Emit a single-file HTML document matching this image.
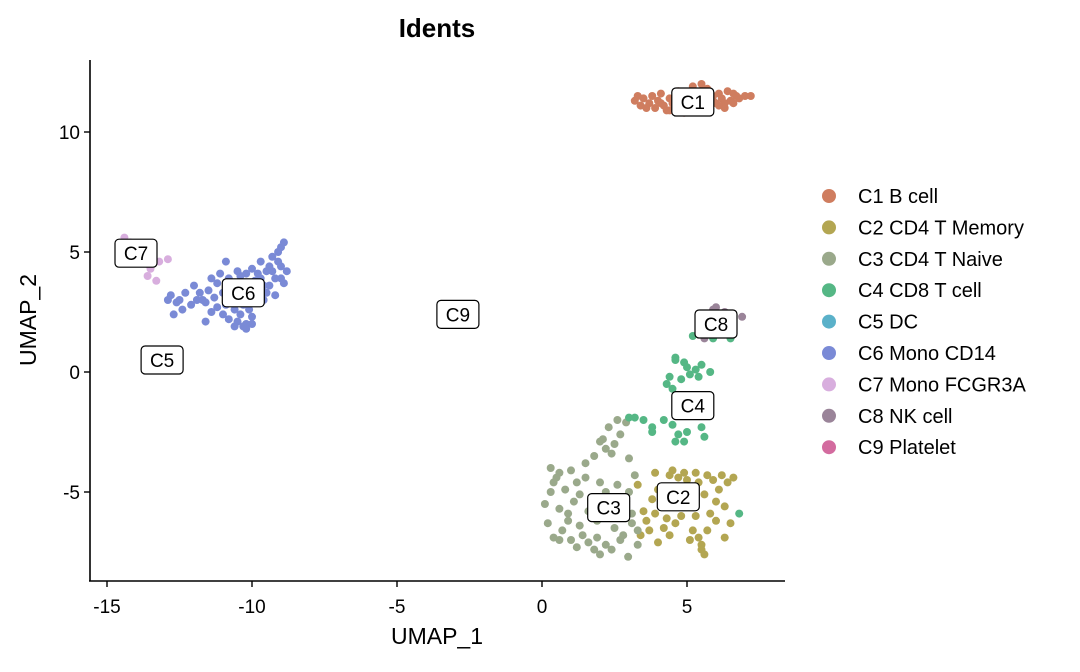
<!DOCTYPE html>
<html><head><meta charset="utf-8"><style>
body{margin:0;background:#fff;font-family:"Liberation Sans",sans-serif}
svg text{font-family:"Liberation Sans",sans-serif}
</style></head><body>
<svg id="chart" width="1080" height="667" xmlns="http://www.w3.org/2000/svg">
<text x="437" y="37" text-anchor="middle" font-size="26" font-weight="bold">Idents</text>
<g id="points"></g>
<g id="axes"></g>
<g id="labels"></g>
<g id="legend"></g>
<text x="437" y="644" text-anchor="middle" font-size="23">UMAP_1</text>
<text transform="translate(36,320) rotate(-90)" text-anchor="middle" font-size="23">UMAP_2</text>
</svg>
<script>
const clusterNames=["C1 B cell","C2 CD4 T Memory","C3 CD4 T Naive","C4 CD8 T cell","C5 DC","C6 Mono CD14","C7 Mono FCGR3A","C8 NK cell","C9 Platelet"];
const clusterColors=["#cf7d5f","#b3a652","#9aa98b","#55b785","#5ab1c9","#7a8ad6","#d8aede","#9a8499","#d36b9f"];
const xTicks=[-15,-10,-5,0,5];
const yTicks=[-5,0,5,10];
const labelIds=["C1","C2","C3","C4","C5","C6","C7","C8","C9"];
const labelX=[5.2,4.7,2.3,5.2,-13.1,-10.3,-14.0,6.0,-2.9];
const labelY=[11.25,-5.2,-5.65,-1.4,0.5,3.3,4.95,2.0,2.4];
const c1=[[3.2,11.3],[3.4,11.1],[3.5,11.4],[3.7,11.2],[3.8,11.5],[3.9,11.0],[4.0,11.3],[4.1,11.6],[4.2,11.1],[4.3,10.9],[4.4,11.4],[4.5,11.2],[4.6,11.0],[4.7,11.7],[4.8,11.3],[4.9,10.8],[5.0,11.5],[5.1,11.1],[5.2,11.9],[5.3,11.6],[5.4,11.0],[5.5,12.0],[5.6,11.3],[5.7,11.8],[5.8,11.1],[5.9,11.5],[6.0,11.2],[6.1,11.6],[6.2,11.4],[6.3,11.0],[6.4,11.7],[6.5,11.3],[6.6,11.6],[6.7,11.5],[6.8,11.4],[7.0,11.5],[7.2,11.5],[6.3,11.2],[5.9,11.3],[4.6,11.5],[3.6,11.0],[4.1,11.2],[4.9,11.1],[5.6,11.6],[6.1,11.1],[6.6,11.2],[4.4,10.9],[3.3,11.5]];
const c2=[[3.9,-4.2],[4.2,-4.8],[4.0,-4.9],[3.8,-5.3],[4.5,-4.1],[4.9,-4.2],[5.3,-4.2],[5.7,-4.3],[5.4,-4.6],[6.2,-4.3],[6.4,-4.6],[6.1,-4.9],[5.6,-5.1],[3.5,-5.8],[3.9,-5.9],[4.3,-6.1],[5.3,-6.0],[6.0,-6.2],[6.3,-5.6],[3.7,-6.6],[4.4,-6.8],[5.1,-7.0],[5.5,-7.2],[5.6,-7.6],[4.0,-7.1],[5.7,-6.6],[6.3,-6.9],[4.6,-6.3],[3.3,-4.7],[3.6,-6.2],[5.2,-6.6],[6.6,-4.4],[4.4,-4.3],[4.7,-4.4],[5.0,-4.5],[5.9,-4.5],[6.0,-5.4],[5.8,-5.9],[4.8,-6.0],[4.2,-6.5],[5.4,-6.9],[5.5,-7.4],[3.4,-6.8],[4.1,-5.4],[6.5,-6.3]];
const c3=[[2.6,-2.0],[2.9,-2.1],[2.3,-2.3],[2.7,-2.6],[2.1,-2.8],[2.5,-3.0],[1.8,-3.5],[2.4,-3.4],[3.0,-3.6],[0.3,-4.0],[0.6,-4.2],[1.0,-4.1],[1.5,-3.8],[1.5,-4.4],[2.0,-4.6],[0.3,-5.0],[0.8,-4.9],[1.3,-5.1],[2.2,-5.0],[2.6,-4.7],[3.2,-4.3],[0.1,-5.5],[0.6,-5.7],[1.1,-5.4],[1.6,-5.8],[2.4,-5.6],[2.9,-5.4],[0.2,-6.3],[0.7,-6.6],[1.3,-6.4],[1.9,-6.9],[2.5,-6.5],[3.1,-6.3],[0.6,-7.0],[1.2,-7.3],[1.6,-7.1],[2.2,-7.2],[2.7,-7.0],[3.3,-7.2],[2.0,-7.6],[2.6,-6.0],[0.4,-4.6],[1.9,-6.2],[3.1,-5.9],[1.0,-7.0],[2.97,-7.7],[2.0,-2.9],[2.2,-3.2],[0.5,-4.4],[1.2,-4.6],[0.9,-5.9],[1.4,-6.8],[2.8,-6.8],[3.0,-5.0],[1.7,-5.3],[0.4,-6.9],[1.8,-7.4],[2.4,-7.4],[3.3,-6.6],[0.9,-6.2]];
const c4=[[5.9,1.4],[6.5,1.4],[5.2,1.5],[4.6,0.6],[4.9,0.4],[5.3,0.1],[5.5,0.3],[5.8,0.0],[4.4,-0.2],[4.8,-0.3],[5.1,-0.1],[4.5,-0.7],[5.2,-1.0],[4.2,-2.0],[3.0,-1.9],[3.5,-2.0],[3.8,-2.3],[4.7,-2.6],[5.5,-2.3],[5.6,-2.7],[4.9,-2.9],[3.8,-2.5],[5.0,-2.5],[6.8,-5.9],[4.5,-2.2],[5.0,0.2],[4.6,0.5],[5.4,-0.2],[4.3,-0.5],[3.2,-1.9],[4.6,-2.9]];
const c5=[];
const c6=[[-12.8,3.2],[-12.6,2.9],[-12.4,2.6],[-12.7,2.4],[-12.9,3.0],[-12.3,3.3],[-12.0,3.6],[-11.8,3.3],[-11.6,2.9],[-11.4,2.5],[-11.6,2.1],[-11.3,3.1],[-11.2,3.7],[-11.0,3.3],[-10.9,2.8],[-10.8,2.2],[-10.6,1.9],[-10.4,2.4],[-10.2,2.0],[-10.0,2.3],[-10.3,2.8],[-10.7,3.6],[-10.4,4.0],[-10.1,3.7],[-9.9,3.3],[-10.0,4.3],[-9.7,3.9],[-9.5,4.2],[-9.4,3.6],[-9.2,3.9],[-9.0,4.4],[-9.3,4.8],[-9.0,5.2],[-8.9,5.4],[-8.8,4.2],[-8.9,3.7],[-9.6,3.0],[-9.7,4.6],[-10.5,4.2],[-11.1,4.1],[-11.9,3.0],[-10.9,4.6],[-10.5,3.2],[-9.2,3.2],[-10.6,2.6],[-10.2,1.8],[-12.5,3.0],[-12.1,2.8],[-11.7,3.0],[-11.5,3.4],[-11.2,2.7],[-11.0,2.4],[-10.7,2.9],[-10.5,2.1],[-10.1,2.6],[-9.8,2.9],[-9.8,4.1],[-9.6,3.6],[-9.4,4.4],[-9.1,4.6],[-9.3,4.2],[-9.0,3.9],[-10.2,4.1],[-9.9,3.8],[-10.8,3.9],[-11.4,3.9],[-10.3,1.9],[-10.0,2.0],[-9.1,5.0],[-9.5,3.3]];
const c7=[[-14.4,5.6],[-13.8,4.9],[-13.6,4.5],[-13.4,4.9],[-13.2,4.6],[-13.6,4.0],[-13.3,3.8],[-12.9,4.7],[-13.5,4.3],[-14.2,5.4]];
const c8=[[5.6,1.4],[6.0,1.7],[6.3,2.5],[6.6,2.2],[6.9,2.3],[5.9,2.6],[6.2,1.8],[6.0,2.7]];
const c9=[];
const NS="http://www.w3.org/2000/svg";
const sx=v=>542+29*v, sy=v=>372-24*v;
function mk(t,a,p){const e=document.createElementNS(NS,t);for(const k in a)e.setAttribute(k,a[k]);p.appendChild(e);return e;}
const pts=document.getElementById('points');
[c1,c2,c3,c4,c5,c6,c7,c8,c9].forEach((arr,ci)=>{arr.forEach(p=>{
 const c=mk('circle',{cx:sx(p[0]),cy:sy(p[1]),r:4,fill:clusterColors[ci]},pts);
 
 
});});
const ax=document.getElementById('axes');
mk('line',{x1:90,y1:60,x2:90,y2:581,stroke:'#000','stroke-width':1.6},ax);
mk('line',{x1:89,y1:581,x2:785,y2:581,stroke:'#000','stroke-width':1.6},ax);
xTicks.forEach(t=>{mk('line',{x1:sx(t),y1:581,x2:sx(t),y2:587,stroke:'#000','stroke-width':1.4},ax);
 const tx=mk('text',{x:sx(t),y:613,'text-anchor':'middle','font-size':19},ax);tx.textContent=t;
 
 });
yTicks.forEach(t=>{mk('line',{x1:84,y1:sy(t),x2:90,y2:sy(t),stroke:'#000','stroke-width':1.4},ax);
 const tx=mk('text',{x:80,y:sy(t)+7,'text-anchor':'end','font-size':19},ax);tx.textContent=t;
 
 });
const lb=document.getElementById('labels');
labelIds.forEach((id,i)=>{const g=mk('g',{},lb);
 
 
 const cx=sx(labelX[i]),cy=sy(labelY[i]);
 mk('rect',{x:cx-21,y:cy-14,width:42,height:28,rx:4,fill:'#fff',stroke:'#000','stroke-width':1.2},g);
 const t=mk('text',{x:cx,y:cy+7,'text-anchor':'middle','font-size':19},g);t.textContent=id;});
const lg=document.getElementById('legend');
clusterNames.forEach((n,i)=>{const g=mk('g',{},lg);
 
 
 const y=196+i*31.4;
 mk('circle',{cx:829,cy:y,r:7,fill:clusterColors[i]},g);
 const t=mk('text',{x:858,y:y+7,'font-size':20},g);t.textContent=n;});
</script>
</body></html>
